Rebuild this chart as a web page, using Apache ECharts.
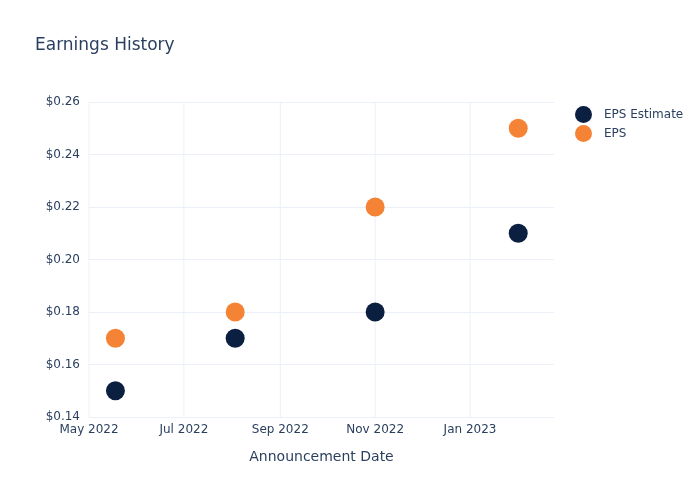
<!DOCTYPE html>
<html>
<head>
<meta charset="utf-8">
<script src="https://cdn.jsdelivr.net/npm/echarts@6/dist/echarts.min.js"></script>
<style>html,body{margin:0;padding:0;background:#fff;}#c{width:700px;height:500px;}</style>
</head>
<body>
<div id="c"></div>
<script>
const dates = ['2022-05-18', '2022-08-03', '2022-11-01', '2023-02-01'];
const epsEstimate = [0.15, 0.17, 0.18, 0.21];
const eps = [0.17, 0.18, 0.22, 0.25];
const xTicks = ['2022-05-01', '2022-07-01', '2022-09-01', '2022-11-01', '2023-01-01'];
const yMin = 0.14, yMax = 0.26, yStep = 0.02;
const xMin = '2022-05-01';
const xMax = '2023-02-24';

const months = ['Jan','Feb','Mar','Apr','May','Jun','Jul','Aug','Sep','Oct','Nov','Dec'];
const textColor = '#2a3f5f';
const gridColor = '#ebf0f8';
const font = '"DejaVu Sans", sans-serif';
const ts = s => new Date(s + 'T00:00:00').getTime();

const gridSeries = xTicks.map(t => ({
  name: 'vgrid', type: 'line', z: 0, silent: true, symbol: 'none',
  lineStyle: {color: gridColor, width: 1},
  emphasis: {disabled: true},
  data: [[ts(t), yMin], [ts(t), yMax]]
}));

const chart = echarts.init(document.getElementById('c'), null, {renderer: 'canvas'});
chart.setOption({
  animation: false,
  backgroundColor: '#fff',
  title: {
    text: 'Earnings History',
    left: 30, top: 32,
    textStyle: {color: textColor, fontSize: 17, fontWeight: 'normal', fontFamily: font}
  },
  legend: {
    orient: 'vertical',
    left: 570, top: 101,
    itemWidth: 17, itemHeight: 17, itemGap: 2,
    icon: 'circle',
    textStyle: {color: textColor, fontSize: 12, fontFamily: font, padding: [0, 0, 0, 7]},
    data: ['EPS Estimate', 'EPS']
  },
  grid: {left: 89, right: 146, top: 102, bottom: 83, containLabel: false},
  xAxis: {
    type: 'value',
    min: ts(xMin), max: ts(xMax),
    scale: true,
    name: 'Announcement Date',
    nameLocation: 'middle',
    nameGap: 33,
    nameTextStyle: {color: textColor, fontSize: 14, fontFamily: font},
    axisLine: {show: false},
    axisTick: {show: false},
    minorTick: {show: false},
    splitLine: {show: false},
    axisLabel: {
      color: textColor, fontSize: 12, fontFamily: font, margin: 7,
      hideOverlap: false,
      customValues: xTicks.map(ts),
      formatter: function (v) {
        const d = new Date(v);
        return months[d.getMonth()] + ' ' + d.getFullYear();
      }
    }
  },
  yAxis: {
    type: 'value',
    min: yMin, max: yMax, interval: yStep,
    axisLine: {show: false},
    axisTick: {show: false},
    splitLine: {show: true, lineStyle: {color: gridColor, width: 1}},
    axisLabel: {
      color: textColor, fontSize: 12, fontFamily: font, margin: 9,
      formatter: v => '$' + v.toFixed(2)
    }
  },
  series: gridSeries.concat([
    {
      name: 'EPS Estimate', type: 'scatter', symbolSize: 19, z: 3,
      itemStyle: {color: '#0b1f41', opacity: 1},
      data: dates.map((d, i) => [ts(d), epsEstimate[i]])
    },
    {
      name: 'EPS', type: 'scatter', symbolSize: 19, z: 3,
      itemStyle: {color: '#f58335', opacity: 1},
      data: dates.map((d, i) => [ts(d), eps[i]])
    }
  ])
});
</script>
</body>
</html>
